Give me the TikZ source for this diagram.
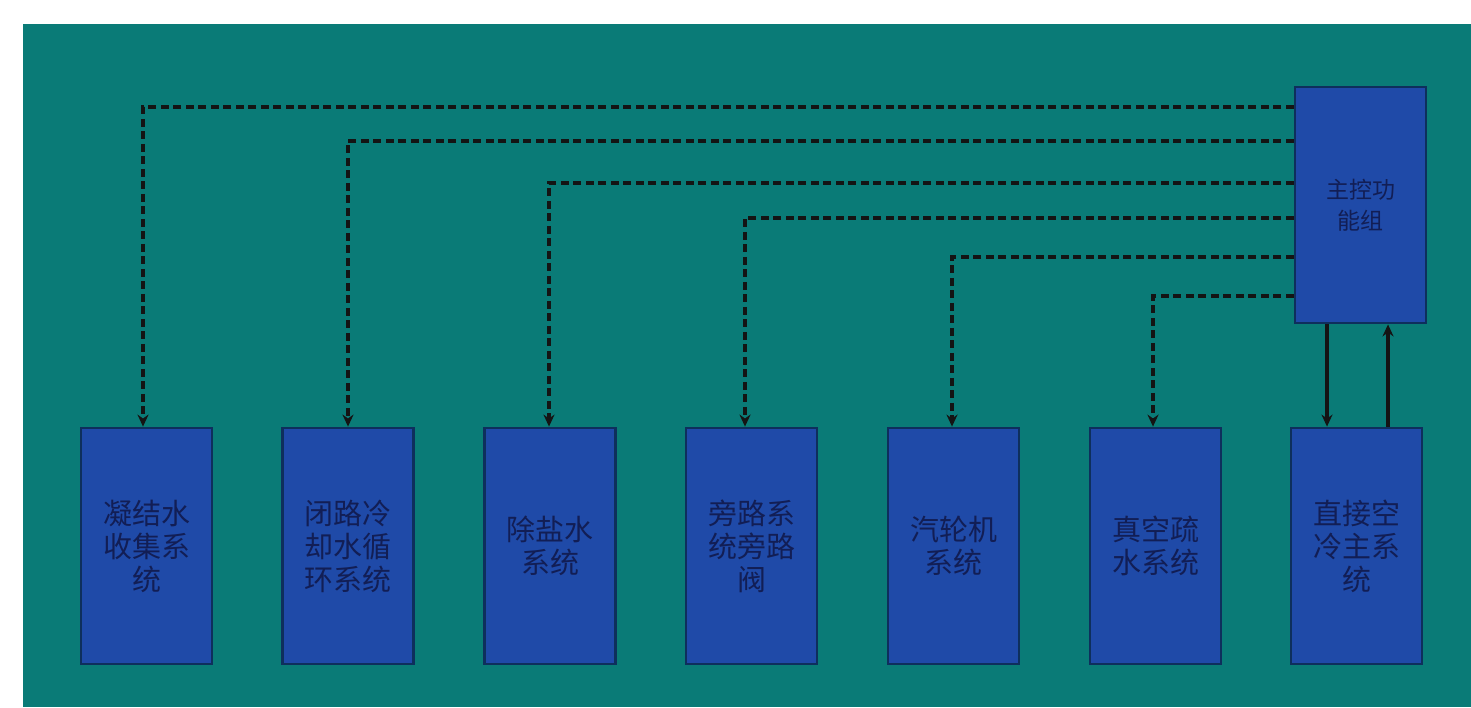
\documentclass[tikz,border=0pt]{standalone}
\usepackage{fontspec}
\newfontfamily\cjk{Noto Sans CJK SC}
\usetikzlibrary{arrows.meta}
\definecolor{bgteal}{HTML}{0A7B77}
\definecolor{boxblue}{HTML}{1F4AA8}
\definecolor{boxedge}{HTML}{0E2F5C}
\definecolor{txtnavy}{HTML}{121E55}
\tikzset{
  sysbox/.style={draw=boxedge, line width=2.8pt, fill=boxblue, minimum width=131pt, minimum height=236pt,
    inner sep=0pt, font=\cjk\fontsize{29}{33}\selectfont, text=txtnavy, align=center},
  mainbox/.style={sysbox, font=\cjk\fontsize{23}{31}\selectfont},
  ctrl/.style={line width=3.3pt, draw=black!92, dash pattern=on 8pt off 4.5pt, -{Stealth[length=12pt,width=11pt]}},
  solidarrow/.style={line width=3.3pt, draw=black!92, -{Stealth[length=12pt,width=11pt]}}
}
\begin{document}
\begin{tikzpicture}[x=1pt,y=-1pt]
\useasboundingbox (0,0) rectangle (1471,707);
\fill[white] (0,0) rectangle (1471,707);
\fill[bgteal] (23,24) rectangle (1471,707);
\node[mainbox] (m) at (1360.5,205) {主控功\\能组};
\node[sysbox] (b1) at (146.5,546) {凝结水\\收集系\\统};
\node[sysbox] (b2) at (348,546) {闭路冷\\却水循\\环系统};
\node[sysbox] (b3) at (550,546) {除盐水\\系统};
\node[sysbox] (b4) at (751.5,546) {旁路系\\统旁路\\阀};
\node[sysbox] (b5) at (953.5,546) {汽轮机\\系统};
\node[sysbox] (b6) at (1155.5,546) {真空疏\\水系统};
\node[sysbox] (b7) at (1356.5,546) {直接空\\冷主系\\统};
\draw[ctrl] ([yshift=98pt]m.west) -| ([xshift=-3.5pt]b1.north);
\draw[ctrl] ([yshift=64pt]m.west) -| (b2.north);
\draw[ctrl] ([yshift=22pt]m.west) -| ([xshift=-1pt]b3.north);
\draw[ctrl] ([yshift=-13pt]m.west) -| ([xshift=-6.5pt]b4.north);
\draw[ctrl] ([yshift=-52pt]m.west) -| ([xshift=-1.5pt]b5.north);
\draw[ctrl] ([yshift=-91pt]m.west) -| ([xshift=-2.5pt]b6.north);
\draw[solidarrow] ([xshift=-33.5pt]m.south) -- ([xshift=-33.5pt]m.south |- b7.north);
\draw[solidarrow] ([xshift=27.5pt]m.south |- b7.north) -- ([xshift=27.5pt]m.south);
\end{tikzpicture}
\end{document}
